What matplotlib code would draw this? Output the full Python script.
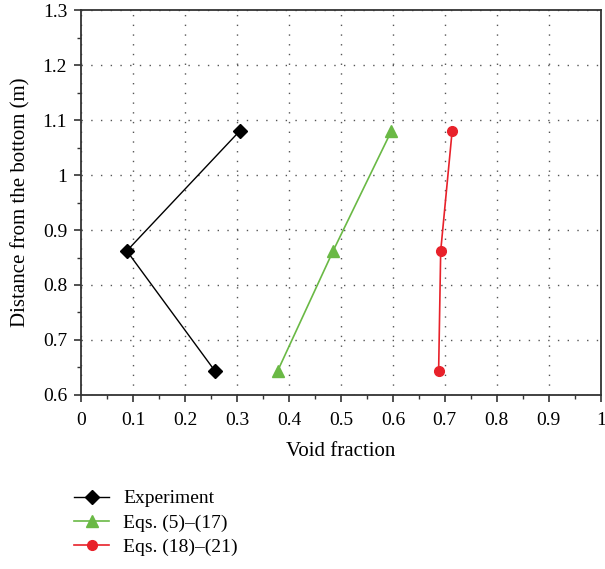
import matplotlib
matplotlib.use('Agg')
import matplotlib.pyplot as plt
from matplotlib.ticker import MultipleLocator

plt.rcParams['font.family'] = ['Liberation Serif', 'DejaVu Serif']

# values
height = [0.643, 0.862, 1.08]
experiment = [0.258, 0.088, 0.305]
eqs_5_17 = [0.378, 0.485, 0.597]
eqs_18_21 = [0.688, 0.692, 0.714]

x_ticks = [0, 0.1, 0.2, 0.3, 0.4, 0.5, 0.6, 0.7, 0.8, 0.9, 1]
x_labels = ['0', '0.1', '0.2', '0.3', '0.4', '0.5', '0.6', '0.7', '0.8', '0.9', '1']
y_ticks = [0.6, 0.7, 0.8, 0.9, 1, 1.1, 1.2, 1.3]
y_labels = ['0.6', '0.7', '0.8', '0.9', '1', '1.1', '1.2', '1.3']

fig = plt.figure(figsize=(6.05, 5.69), dpi=100)
ax = fig.add_axes([0.134, 0.306, 0.859, 0.676])

ax.plot(experiment, height, color='black', lw=1, marker='D', ms=7,
        label='Experiment')
ax.plot(eqs_5_17, height, color='#6ab945', lw=1.2, marker='^', ms=8,
        label='Eqs. (5)–(17)')
ax.plot(eqs_18_21, height, color='#e8212a', lw=1.2, marker='o', ms=7,
        label='Eqs. (18)–(21)')

ax.set_xlim(0, 1)
ax.set_ylim(0.6, 1.3)
ax.set_xticks(x_ticks)
ax.set_xticklabels(x_labels)
ax.set_yticks(y_ticks)
ax.set_yticklabels(y_labels)
ax.xaxis.set_minor_locator(MultipleLocator(0.05))
ax.yaxis.set_minor_locator(MultipleLocator(0.05))

ax.tick_params(which='both', direction='out', top=False, right=False,
               labelsize=14, color='#333333')
ax.tick_params(axis='x', which='major', pad=7)
ax.tick_params(axis='y', which='major', pad=5)
ax.tick_params(which='major', length=5, width=1.2)
ax.tick_params(which='minor', length=3, width=1)
for s in ax.spines.values():
    s.set_linewidth(1.3)
    s.set_color('#333333')

ax.grid(True, which='major', color='#555555', linestyle=(0, (1, 6)), lw=1)

ax.set_xlabel('Void fraction', fontsize=15, labelpad=10)
ax.set_ylabel('Distance from the bottom (m)', fontsize=15, labelpad=9)

fig.legend(loc='upper left', bbox_to_anchor=(0.094, 0.17), frameon=False,
           fontsize=14, handlelength=1.8, labelspacing=0.35, handletextpad=0.7)

plt.savefig('out.png', dpi=100)
